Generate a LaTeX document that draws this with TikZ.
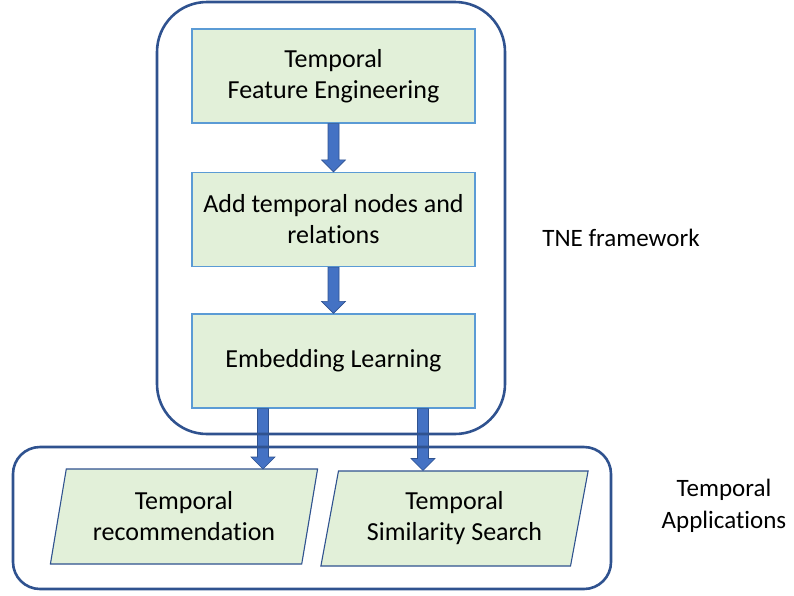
\documentclass[tikz,border=0pt]{standalone}
\usepackage{fontspec}
\setmainfont[Ligatures=NoCommon]{Carlito}
\usetikzlibrary{shapes.geometric,calc}
\definecolor{boxfill}{HTML}{E2F0D9}
\definecolor{boxline}{HTML}{5B9BD5}
\definecolor{frameblue}{HTML}{2F528F}
\definecolor{arrowblue}{HTML}{4472C4}
\newcommand\blockarrow[2]{%
  \fill[arrowblue, draw=frameblue, line width=0.6pt, line join=miter]
    ($(#1)+(-5.5,0)$) -- ($(#2)+(-5.5,-12)$) -- ($(#2)+(-12,-12)$) -- (#2)
    -- ($(#2)+(12,-12)$) -- ($(#2)+(5.5,-12)$) -- ($(#1)+(5.5,0)$) -- cycle;}
\begin{document}
\begin{tikzpicture}[x=1pt,y=-1pt,
  txt/.style={font=\fontsize{26}{31}\selectfont, align=center},
  stepbox/.style={txt, draw=boxline, line width=1.2pt, fill=boxfill,
    minimum width=283pt, minimum height=94pt, inner sep=0pt},
  appbox/.style={txt, trapezium, trapezium left angle=76, trapezium right angle=104,
    trapezium stretches=true, draw=frameblue, line width=1.1pt, fill=boxfill,
    minimum width=268pt, minimum height=95pt, inner sep=0pt},
  frame/.style={draw=frameblue, line width=2.6pt, inner sep=0pt},
  label/.style={font=\fontsize{25}{32}\selectfont, align=center}]
\useasboundingbox (0,0) rectangle (794,595);

\node[stepbox] (b1) at (333.5,76) {Temporal\\Feature Engineering};
\node[stepbox] (b2) at (333.5,219.5) {Add temporal nodes and\\relations};
\node[stepbox] (b3) at (333.5,361) {Embedding Learning};

\node[appbox] (p1) at (184,516.5) {Temporal\\recommendation};
\node[appbox] (p2) at (454.5,518.5) {Temporal\\Similarity Search};

\coordinate (t1) at (263,469);
\coordinate (t2) at (423,470.5);
\coordinate (s1) at (b3.south -| t1);
\coordinate (s2) at (b3.south -| t2);

\blockarrow{b1.south}{b2.north}
\blockarrow{b2.south}{b3.north}
\blockarrow{s1}{t1}
\blockarrow{s2}{t2}

\node[frame, rounded corners=50pt, minimum width=348pt, minimum height=432pt] (tne) at (331,218) {};
\node[frame, rounded corners=27pt, minimum width=598pt, minimum height=142pt] (apps) at (312,518) {};

\node[label] (ltne) at (621,238) {TNE framework};
\node[label] (lapps) at (724,506) {Temporal\\Applications};
\end{tikzpicture}
\end{document}
